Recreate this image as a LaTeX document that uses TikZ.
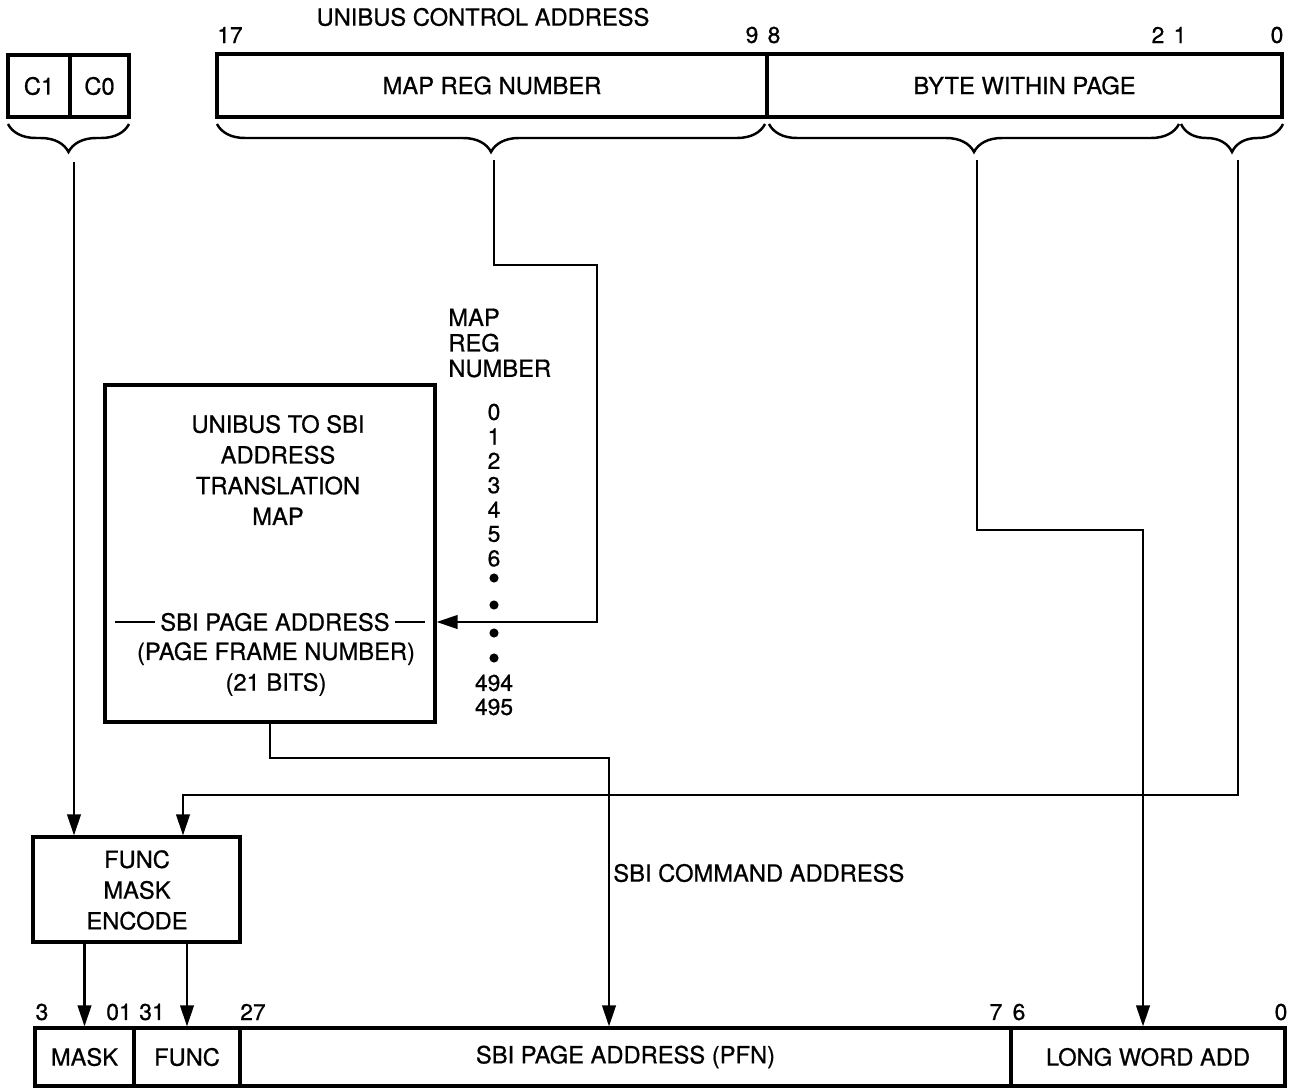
\documentclass[tikz,border=0pt]{standalone}
\usepackage{fontspec}
\setmainfont{TeX Gyre Heros}[BoldFont=TeX Gyre Heros, BoldFeatures={FakeBold=0.7}]
\usetikzlibrary{arrows.meta, decorations.pathreplacing}

\begin{document}
\begin{tikzpicture}[x=0.02cm, y=-0.02cm,
    every node/.style={font=\fontsize{13.5}{17.5}\selectfont\bfseries},
    field/.style={rectangle, draw, line width=1.8pt, inner sep=0pt, minimum height=1.16cm},
    block/.style={rectangle, draw, line width=1.8pt, inner sep=0pt},
    bits/.style={inner sep=0pt, font=\fontsize{13}{15}\selectfont\bfseries},
    brc/.style={decorate, decoration={brace, amplitude=0.56cm}, line width=1.4pt},
    wire/.style={line width=1.4pt},
    arrow/.style={->, >={Triangle[length=4.2mm, width=2.7mm]}, line width=1.4pt}]

    \useasboundingbox (0,0) rectangle (1290,1088);

    % unibus control address
    \node [inner sep=0pt] (title) at (483,17) {UNIBUS CONTROL ADDRESS};
    \node [field, minimum height=1.24cm, minimum width=1.24cm] (c1) at (39,86) {C1};
    \node [field, minimum height=1.24cm, minimum width=1.18cm] (c0) at (99.5,86) {C0};
    \node [field, minimum height=1.26cm, minimum width=11cm] (mapreg) at (492,85.5) {MAP REG NUMBER};
    \node [field, minimum height=1.26cm, minimum width=10.3cm] (byte) at (1024.5,85.5) {BYTE WITHIN PAGE};

    \node [bits] (b17) at (230,35) {17};
    \node [bits] (b9) at (752,35) {9};
    \node [bits] (b8) at (774,35) {8};
    \node [bits] (b2) at (1158,35) {2};
    \node [bits] (b1) at (1180,35) {1};
    \node [bits] (b0) at (1277,35) {0};

    % braces under the fields
    \draw [brc] (129,124) -- (8,124);
    \draw [brc] (765,124) -- (217,124);
    \draw [brc] (1179,124) -- (769,124);
    \draw [brc] (1283,124) -- (1181,124);
    \coordinate (cbr) at (74,162);
    \coordinate (mapbr) at (494,160);
    \coordinate (bytebr) at (977,160);
    \coordinate (lowbr) at (1238,160);

    % translation map
    \node [block, minimum width=6.6cm, minimum height=6.74cm] (maptab) at (270,553.5) {};
    \node [inner sep=0pt, align=center] (maptxt) at (278,470) {UNIBUS TO SBI\\ADDRESS\\TRANSLATION\\MAP};
    \node [inner xsep=3pt, inner ysep=0pt] (sbipa) at (275,622) {SBI PAGE ADDRESS};
    \node [inner sep=0pt, align=center] (pfntxt) at (276,669) {(PAGE FRAME NUMBER)\\(21 BITS)};
    \coordinate (sbl) at (115,622);
    \coordinate (sbr) at (425,622);
    \draw [wire] (sbl) -- (sbipa.west) (sbipa.east) -- (sbr);

    \node [inner sep=0pt, anchor=west, align=left, font=\fontsize{13.5}{14.5}\selectfont\bfseries] (mrn) at (448,343) {MAP\\REG\\NUMBER};
    \foreach \n in {0,...,6}
        \node [bits] (num\n) at (494,412+24.4*\n) {\n};
    \foreach \y in {578,605,633,658}
        \fill (494,\y) circle [radius=2.6pt];
    \node [bits] (num494) at (494,683) {494};
    \node [bits] (num495) at (494,707) {495};

    % func / mask encoder
    \node [block, minimum width=4.14cm, minimum height=2.1cm] (funcbox) at (136.5,889.5) {};
    \node [inner sep=0pt, align=center] (functxt) at (137,890) {FUNC\\MASK\\ENCODE};

    % sbi command address
    \node [field, minimum width=1.98cm] (mask) at (84.5,1057) {MASK};
    \node [field, minimum width=2.12cm] (func) at (187,1057) {FUNC};
    \node [field, minimum width=15.42cm] (pfn) at (625.5,1057) {SBI PAGE ADDRESS (PFN)};
    \node [field, minimum width=5.48cm] (lwa) at (1148,1057) {LONG WORD ADD};
    \node [inner sep=0pt, anchor=west] (cmd) at (613,873) {SBI COMMAND ADDRESS};

    \node [bits] (c3) at (42,1012) {3};
    \node [bits] (c01) at (119,1012) {01};
    \node [bits] (c31) at (152,1012) {31};
    \node [bits] (c27) at (253,1012) {27};
    \node [bits] (c7) at (996,1012) {7};
    \node [bits] (c6) at (1019,1012) {6};
    \node [bits] (c0b) at (1281,1012) {0};

    % connectors
    \coordinate (pfnturn) at (609,758);
    \coordinate (byteturn) at (1143,530);
    \coordinate (maskturn) at (183,795);
    \draw [arrow] (cbr) -- (cbr |- funcbox.north);
    \draw [arrow] (mapbr) |- (597,265) |- (maptab.east |- sbipa);
    \draw [arrow] (maptab.south) |- (pfnturn) -- (pfnturn |- pfn.north);
    \draw [arrow] (bytebr) |- (byteturn) -- (byteturn |- lwa.north);
    \draw [arrow] (lowbr) |- (maskturn) -- (maskturn |- funcbox.north);
    \draw [arrow] (funcbox.south -| mask) -- (mask.north);
    \draw [arrow] (funcbox.south -| func) -- (func.north);

\end{tikzpicture}
\end{document}
